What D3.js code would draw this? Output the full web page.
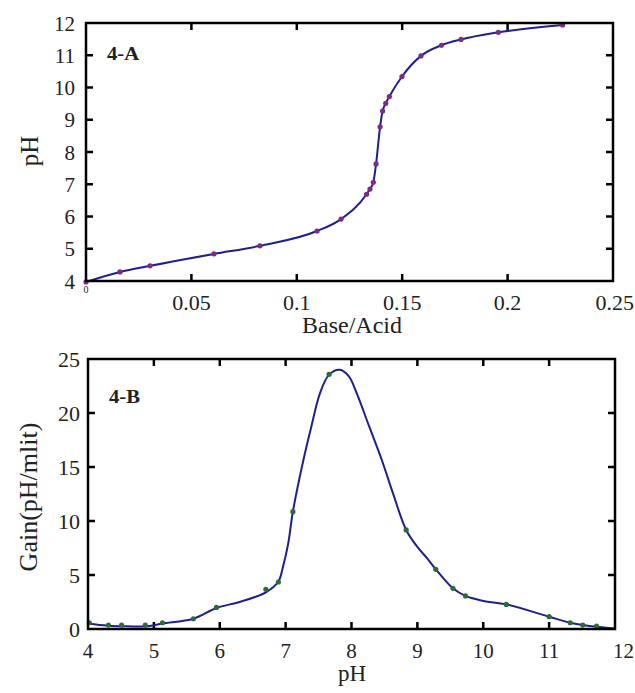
<!DOCTYPE html>
<html lang="en">
<head>
<meta charset="utf-8">
<title>titration curve and gain</title>
<script src="https://cdn.jsdelivr.net/npm/d3@7"></script>
<style>
  body{margin:0;background:#fff;}
  svg text{fill:#222;}
</style>
</head>
<body>
<div id="chart"></div>
<script>
// 4-A : titration curve, pH vs base/acid ratio
var ratio = [0, 0.0161, 0.0304, 0.0607, 0.0825, 0.1096, 0.121, 0.1331, 0.1347, 0.1363, 0.1376, 0.1395, 0.1407, 0.1422, 0.1439, 0.1499, 0.1589, 0.1686, 0.1779, 0.1956, 0.2261]
var phA   = [3.97, 4.28, 4.47, 4.84, 5.09, 5.55, 5.92, 6.69, 6.85, 7.06, 7.63, 8.78, 9.27, 9.51, 9.72, 10.34, 10.98, 11.31, 11.49, 11.71, 11.94]
var ticksA_x = [0.05, 0.1, 0.15, 0.2, 0.25]
var ticksA_y = [4, 5, 6, 7, 8, 9, 10, 11, 12]

// 4-B : gain markers (same pH points)
var phB   = [4.02, 4.31, 4.51, 4.87, 5.13, 5.60, 5.95, 6.70, 6.89, 7.11, 7.66, 8.83, 9.28, 9.54, 9.73, 10.35, 11.0, 11.32, 11.51, 11.72]
var gainB = [0.58, 0.37, 0.37, 0.37, 0.58, 0.95, 2.0, 3.67, 4.35, 10.86, 23.58, 9.17, 5.53, 3.77, 3.06, 2.28, 1.14, 0.58, 0.37, 0.28]
// fitted gain curve
var curvePh   = [4.0, 4.3, 4.6, 4.9, 5.13, 5.6, 5.95, 6.3, 6.7, 6.89, 6.96, 7.04, 7.11, 7.27, 7.39, 7.52, 7.66, 7.82, 7.96, 8.08, 8.27, 8.46, 8.63, 8.83, 9.0, 9.14, 9.28, 9.54, 9.73, 10.0, 10.35, 11.0, 11.32, 11.51, 11.72, 12.0]
var curveGain = [0.5, 0.3, 0.25, 0.25, 0.5, 0.95, 1.95, 2.5, 3.4, 4.4, 5.77, 7.94, 10.86, 15.65, 18.73, 21.8, 23.55, 24.0, 23.4, 21.82, 18.73, 15.65, 12.56, 9.17, 7.6, 6.6, 5.53, 3.77, 3.06, 2.6, 2.28, 1.14, 0.58, 0.37, 0.2, 0.05]
var ticksB_x = [4, 5, 6, 7, 8, 9, 10, 11, 12]
var ticksB_y = [0, 5, 10, 15, 20, 25]

var W = 635, H = 693
var svg = d3.select("#chart").append("svg").attr("width", W).attr("height", H)
  .attr("font-family", "'Liberation Serif', 'Times New Roman', Times, serif")

var lineColor = "#1f1f8e"

function panel(opt){
  var x = d3.scaleLinear().domain(opt.xd).range([opt.left, opt.right])
  var y = d3.scaleLinear().domain(opt.yd).range([opt.bottom, opt.top])
  var g = svg.append("g")
  var tl = 7

  // inward ticks on all four sides
  var inner = function(v, d){ return v > d[0] && v < d[1] }
  g.selectAll(".xt").data(opt.xt.filter(function(v){ return inner(v, opt.xd) })).enter()
    .append("path")
    .attr("d", function(v){ var px = x(v); return "M"+px+","+opt.bottom+"v"+(-tl)+"M"+px+","+opt.top+"v"+tl })
    .attr("stroke", "#000").attr("stroke-width", 2.5)
  g.selectAll(".yt").data(opt.yt.filter(function(v){ return inner(v, opt.yd) })).enter()
    .append("path")
    .attr("d", function(v){ var py = y(v); return "M"+opt.left+","+py+"h"+tl+"M"+opt.right+","+py+"h"+(-tl) })
    .attr("stroke", "#000").attr("stroke-width", 2.5)

  // tick labels (the last x label is pushed against the page edge like in the scan)
  g.selectAll(".xl").data(opt.xt).enter().append("text")
    .attr("x", function(v){ return v == opt.xd[1] ? W - 1 : x(v) }).attr("y", opt.xlabY)
    .attr("text-anchor", function(v){ return v == opt.xd[1] ? "end" : "middle" })
    .attr("font-size", opt.xfs)
    .text(function(v){ return v })
  g.selectAll(".yl").data(opt.yt).enter().append("text")
    .attr("x", opt.left - opt.ylabGap).attr("y", function(v){ return y(v) })
    .attr("dy", "0.36em").attr("text-anchor", "end").attr("font-size", opt.yfs)
    .text(function(v){ return v })

  // curve + markers
  var line = d3.line().x(function(d){ return x(d[0]) }).y(function(d){ return y(d[1]) }).curve(opt.curveType)
  g.append("path").datum(opt.curve).attr("d", line)
    .attr("fill", "none").attr("stroke", lineColor).attr("stroke-width", 2)
  g.selectAll(".pt").data(opt.pts).enter().append("circle")
    .attr("cx", function(d){ return x(d[0]) }).attr("cy", function(d){ return y(d[1]) })
    .attr("r", 2.6).attr("fill", opt.mColor)

  // box
  g.append("rect").attr("x", opt.left).attr("y", opt.top)
    .attr("width", opt.right - opt.left).attr("height", opt.bottom - opt.top)
    .attr("fill", "none").attr("stroke", "#000").attr("stroke-width", 2.5)

  g.append("text").attr("transform", "translate("+(opt.left + 21)+","+(opt.top + opt.tagDy)+") scale(1.15,1)")
    .attr("font-size", 18).attr("font-weight", "bold").attr("fill", "#111").text(opt.tag)
  return {x: x, y: y, g: g}
}

var pA = panel({
  left: 86, right: 613, top: 23, bottom: 281,
  xd: [0, 0.25], yd: [4, 12], xt: ticksA_x, yt: ticksA_y,
  xlabY: 310, ylabGap: 11, xfs: 22, yfs: 21, tagDy: 37,
  curve: ratio.map(function(r, i){ return [r, phA[i]] }),
  curveType: d3.curveMonotoneX,
  pts: ratio.map(function(r, i){ return [r, phA[i]] }),
  mColor: "#7a2c86", tag: "4-A"
})
pA.g.append("text").attr("x", 86).attr("y", 293).attr("text-anchor", "middle")
  .attr("font-size", 10).text("0")
pA.g.append("text").attr("x", 352).attr("y", 333).attr("text-anchor", "middle")
  .attr("font-size", 24).text("Base/Acid")
pA.g.append("text").attr("transform", "translate(38,151) rotate(-90)")
  .attr("text-anchor", "middle").attr("font-size", 25).text("pH")

var pB = panel({
  left: 88, right: 615, top: 359, bottom: 629,
  xd: [4, 12], yd: [0, 25], xt: ticksB_x, yt: ticksB_y,
  xlabY: 658, ylabGap: 8, xfs: 21, yfs: 22, tagDy: 44,
  curve: curvePh.map(function(p, i){ return [p, curveGain[i]] }),
  curveType: d3.curveCatmullRom.alpha(0.5),
  pts: phB.map(function(p, i){ return [p, gainB[i]] }),
  mColor: "#2f6b3a", tag: "4-B"
})
pB.g.append("text").attr("x", 352).attr("y", 681).attr("text-anchor", "middle")
  .attr("font-size", 23).text("pH")
pB.g.append("text").attr("transform", "translate(37,497) rotate(-90)")
  .attr("text-anchor", "middle").attr("font-size", 26).text("Gain(pH/mlit)")
</script>
</body>
</html>
